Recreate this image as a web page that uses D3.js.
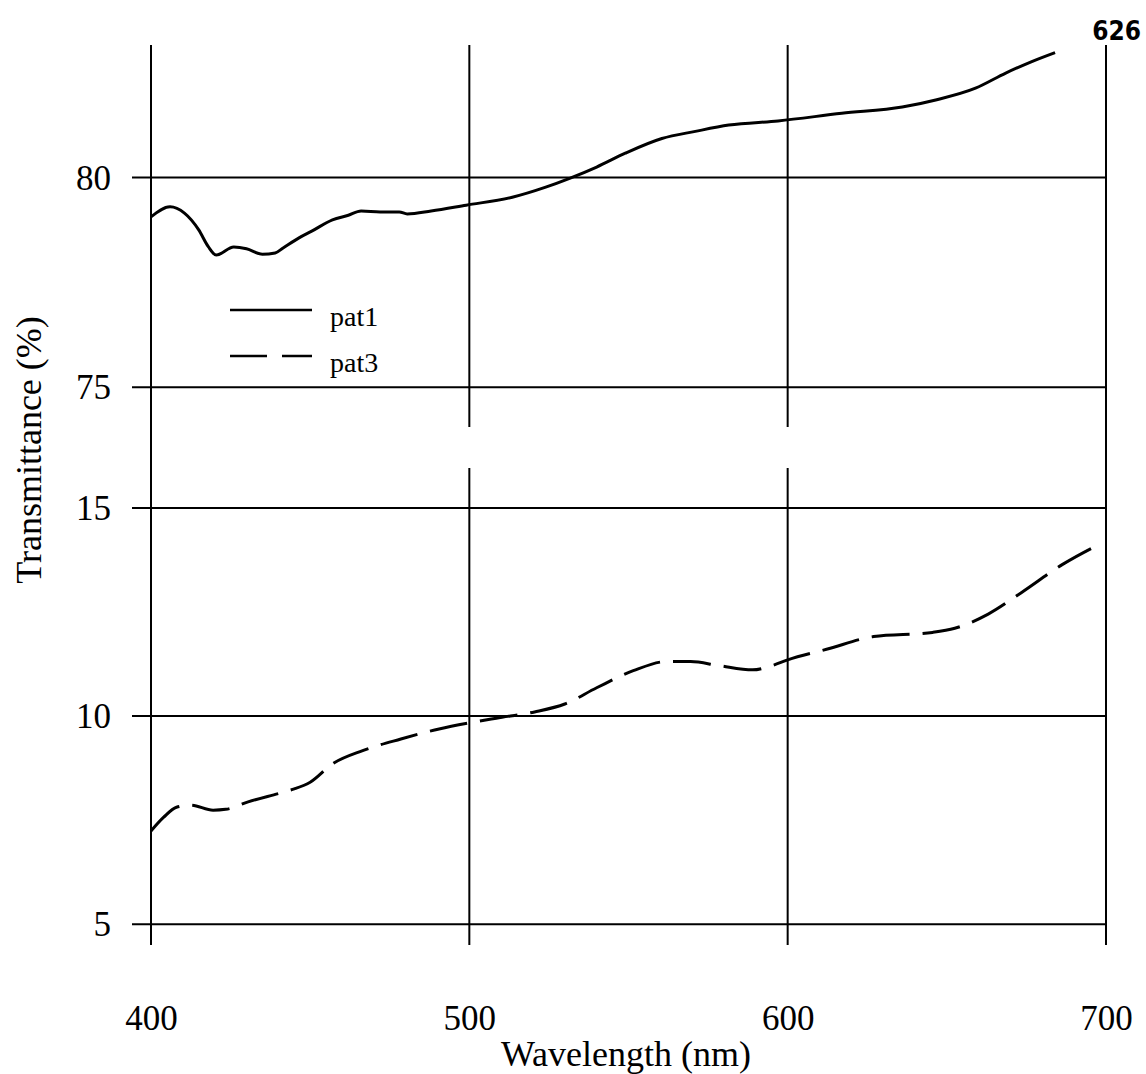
<!DOCTYPE html>
<html>
<head>
<meta charset="utf-8">
<script src="https://cdn.jsdelivr.net/npm/d3@7"></script>
<style>
  body { margin: 0; background: #fff; }
  svg { display: block; }
  text { font-family: "Liberation Serif", "Times New Roman", serif; fill: #000; }
</style>
</head>
<body>
<svg id="chart"></svg>
<script>
// wavelength (nm) and transmittance (%)
const pat1Wave = [400, 406, 410.5, 415, 418, 420.5, 426, 430, 435, 439, 441.5, 446.5, 450.5, 457, 462, 466, 472, 478, 480.5, 488, 499, 513.5, 524, 531.5, 540, 549, 560.5, 571, 581.5, 597, 617, 636, 646.5, 659, 668.5, 676.5, 684];
const pat1Vals = [79.06, 79.3, 79.15, 78.75, 78.35, 78.15, 78.34, 78.3, 78.17, 78.2, 78.32, 78.56, 78.72, 78.99, 79.1, 79.2, 79.18, 79.18, 79.13, 79.2, 79.34, 79.53, 79.77, 79.98, 80.25, 80.58, 80.93, 81.1, 81.25, 81.35, 81.53, 81.68, 81.85, 82.13, 82.49, 82.76, 82.98];

const pat3Wave = [400, 404, 408, 412.5, 419.5, 423.5, 430.5, 441.5, 445, 450, 457, 466.5, 478.5, 490.5, 499.5, 508.5, 520.5, 530, 540, 551.5, 562, 569.5, 578.5, 589, 595, 600, 612.5, 627, 645.5, 652.5, 663, 673.5, 686.5, 698.5];
const pat3Vals = [7.24, 7.57, 7.81, 7.86, 7.74, 7.76, 7.94, 8.17, 8.25, 8.41, 8.85, 9.17, 9.45, 9.69, 9.83, 9.95, 10.1, 10.29, 10.68, 11.09, 11.31, 11.31, 11.21, 11.11, 11.21, 11.35, 11.61, 11.91, 12.01, 12.11, 12.45, 12.97, 13.65, 14.15];

const xTicks = [400, 500, 600, 700];
const topTicks = [75, 80];
const bottomTicks = [5, 10, 15];
const legendNames = ["pat1", "pat3"];

const W = 1146, H = 1074;
const left = 151, right = 1106;

const svg = d3.select("#chart").attr("width", W).attr("height", H);
svg.append("rect").attr("width", W).attr("height", H).attr("fill", "#fff");

const x = d3.scaleLinear().domain([400, 700]).range([left, right]);
// broken y axis: two panels
const yTop = d3.scaleLinear().domain([74.05, 83.16]).range([427, 45]);
const yBot = d3.scaleLinear().domain([4.5, 15.96]).range([945, 468]);

// vertical grid lines, one set per panel
function vGrid(y) {
  const [b, t] = y.range();
  const g = svg.append("g").attr("transform", `translate(0,${t})`)
    .call(d3.axisBottom(x).tickValues(xTicks).tickSize(b - t).tickFormat("").offset(0));
  g.select(".domain").remove();
  g.selectAll("line").attr("stroke", "#000").attr("stroke-width", 2);
}
vGrid(yTop);
vGrid(yBot);

// the outer axes run through the gap
svg.append("g").selectAll("line").data([400, 700]).join("line")
  .attr("x1", d => x(d)).attr("x2", d => x(d))
  .attr("y1", 45).attr("y2", 945)
  .attr("stroke", "#000").attr("stroke-width", 2);

// horizontal grid lines with ticks sticking out left
function hGrid(y, ticks) {
  const g = svg.append("g").attr("transform", `translate(${left},0)`)
    .call(d3.axisLeft(y).tickValues(ticks).tickSizeInner(-(right - left)).tickSizeOuter(0).tickPadding(40).offset(0));
  g.select(".domain").remove();
  g.selectAll(".tick line").attr("x1", -19).attr("stroke", "#000").attr("stroke-width", 2);
  g.selectAll(".tick text")
    .attr("x", -40).attr("dy", "0.35em")
    .style("font-size", "35px")
    .style("font-family", "'Liberation Serif', serif");
}
hGrid(yTop, topTicks);
hGrid(yBot, bottomTicks);

// x tick labels
const xa = svg.append("g").attr("transform", "translate(0,945)")
  .call(d3.axisBottom(x).tickValues(xTicks).tickSize(0).tickPadding(60));
xa.select(".domain").remove();
xa.selectAll("text").style("font-size", "35px").style("font-family", "'Liberation Serif', serif");

// series
const line1 = d3.line().x(d => x(d[0])).y(d => yTop(d[1])).curve(d3.curveMonotoneX);
const line3 = d3.line().x(d => x(d[0])).y(d => yBot(d[1])).curve(d3.curveMonotoneX);

svg.append("path")
  .datum(d3.zip(pat1Wave, pat1Vals))
  .attr("d", line1)
  .attr("fill", "none").attr("stroke", "#000").attr("stroke-width", 3);

svg.append("path")
  .datum(d3.zip(pat3Wave, pat3Vals))
  .attr("d", line3)
  .attr("fill", "none").attr("stroke", "#000").attr("stroke-width", 3)
  .attr("stroke-dasharray", "38,13");

// legend
const leg = svg.append("g");
legendNames.forEach((name, i) => {
  const ly = 310 + i * 46;
  leg.append("line")
    .attr("x1", 230).attr("x2", 312).attr("y1", ly).attr("y2", ly)
    .attr("stroke", "#000").attr("stroke-width", 2.5)
    .attr("stroke-dasharray", i === 1 ? "37,15" : null);
  leg.append("text")
    .attr("x", 330).attr("y", ly + 16)
    .style("font-size", "28px")
    .text(name);
});

// axis titles
svg.append("text")
  .attr("transform", "translate(41,450) rotate(-90)")
  .attr("text-anchor", "middle")
  .style("font-size", "36px")
  .text("Transmittance (%)");

svg.append("text")
  .attr("x", 626).attr("y", 1066)
  .attr("text-anchor", "middle")
  .style("font-size", "36px")
  .text("Wavelength (nm)");

// page number
svg.append("text")
  .attr("x", 1141).attr("y", 40)
  .attr("text-anchor", "end")
  .style("font-family", "'DejaVu Sans Condensed', 'DejaVu Sans', sans-serif")
  .style("font-weight", "bold")
  .style("font-size", "26px")
  .text("626");
</script>
</body>
</html>
